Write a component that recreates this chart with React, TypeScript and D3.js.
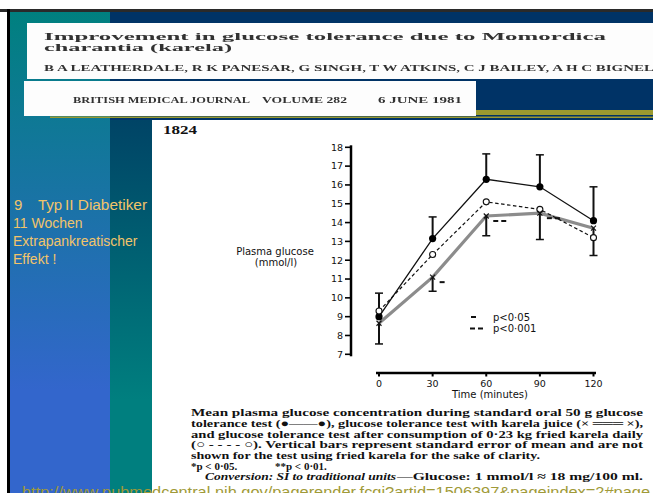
import React from "react";
import * as d3 from "d3";

// values (plasma glucose, mmol/l)
const times = [0, 30, 60, 90, 120];
const standardTest = [9.0, 13.15, 16.3, 15.9, 14.1];
const standardSE = [1.25, 1.15, 1.35, 1.7, 1.8];
const karelaJuice = [8.65, 11.1, 14.35, 14.5, 13.7];
const karelaJuiceSE = [1.1, 0.75, 1.05, 1.4, 1.45];
const friedKarela = [9.3, 12.3, 15.1, 14.7, 13.2];
const juiceSignificance = ["", "*", "**", "**", ""];
const yTicks = d3.range(7, 19);

const titleLines = ["Improvement in glucose tolerance due to Momordica", "charantia (karela)"];
const authorLine = "B A LEATHERDALE, R K PANESAR, G SINGH, T W ATKINS, C J BAILEY, A H C BIGNELL";
const journalParts = ["BRITISH MEDICAL JOURNAL", "VOLUME 282", "6 JUNE 1981"];
const sideNotes = ["11 Wochen", "Extrapankreatischer", "Effekt !"];
const captionLines = [
  "Mean plasma glucose concentration during standard oral 50 g glucose",
  "tolerance test (\u25CF\u2014\u2014\u25CF), glucose tolerance test with karela juice (\u00D7 \u2550\u2550\u2550 \u00D7),",
  "and glucose tolerance test after consumption of 0\u00B723 kg fried karela daily",
  "(\u25CB - - - - \u25CB). Vertical bars represent standard error of mean and are not",
  "shown for the test using fried karela for the sake of clarity.",
];
const url = "http://www.pubmedcentral.nih.gov/pagerender.fcgi?artid=1506397&pageindex=2#page";

const W = 653;
const H = 493;
const serif = "'Liberation Serif', 'DejaVu Serif', serif";
const sans = "'DejaVu Sans', 'Liberation Sans', sans-serif";

export default function App() {
  const x = d3.scaleLinear().domain([0, 120]).range([379, 593.5]);
  const y = d3.scaleLinear().domain([7, 18]).range([354.3, 147.3]);

  const line = d3
    .line<number>()
    .x((_, i) => x(times[i]))
    .y((d) => y(d));

  const capLens = [452, 452, 452, 452, 349];
  const capY = [416.3, 426.9, 437.5, 448.1, 458.7];

  return (
    <svg
      width={W}
      height={H}
      style={{ position: "absolute", left: 0, top: 0, display: "block" }}
    >
      <defs>
        <linearGradient id="leftCol" x1="0" y1="12" x2="0" y2="390" gradientUnits="userSpaceOnUse">
          <stop offset="0" stopColor="#00807f" />
          <stop offset="1" stopColor="#3366cc" />
        </linearGradient>
        <linearGradient id="midCol" x1="0" y1="120" x2="0" y2="400" gradientUnits="userSpaceOnUse">
          <stop offset="0" stopColor="#004466" />
          <stop offset="1" stopColor="#007f7f" />
        </linearGradient>
        <filter id="scan">
          <feGaussianBlur stdDeviation="0.6" />
        </filter>
      </defs>

      {/* slide background */}
      <rect x={0} y={0} width={W} height={H} fill="#ffffff" />
      <rect x={0} y={9} width={W} height={3} fill="#2a2a2a" />
      <rect x={7} y={9} width={3} height={H} fill="#000000" />
      <rect x={10} y={12} width={100} height={H} fill="url(#leftCol)" />
      <rect x={110} y={12} width={W - 110} height={108} fill="#003366" />
      <rect x={110} y={120} width={42} height={H - 120} fill="url(#midCol)" />

      {/* title boxes with the scanned article header */}
      <rect x={27} y={23} width={W - 27} height={56} fill="#fdfdfd" />
      <rect x={24} y={81} width={452} height={35} fill="#fdfdfd" />
      <rect x={476} y={110} width={W - 476} height={5} fill="#9a9a30" />
      <rect x={50} y={116.5} width={W - 50} height={1.5} fill="#9a9a30" />
      <g filter="url(#scan)" fill="#333" fontFamily={serif} fontWeight="bold">
        <text x={44} y={40} fontSize={10.5} textLength={562} lengthAdjust="spacingAndGlyphs">
          {titleLines[0]}
        </text>
        <text x={44} y={50.5} fontSize={10.5} textLength={188} lengthAdjust="spacingAndGlyphs">
          {titleLines[1]}
        </text>
        <text x={44} y={71} fontSize={8.5} textLength={620} lengthAdjust="spacingAndGlyphs">
          {authorLine}
        </text>
        <text x={73} y={103} fontSize={7.5} textLength={177} lengthAdjust="spacingAndGlyphs">
          {journalParts[0]}
        </text>
        <text x={262} y={103} fontSize={7.5} textLength={85} lengthAdjust="spacingAndGlyphs">
          {journalParts[1]}
        </text>
        <text x={378} y={103} fontSize={7.5} textLength={84} lengthAdjust="spacingAndGlyphs">
          {journalParts[2]}
        </text>
      </g>

      {/* side note */}
      <g fill="#f2c46a" fontFamily="'Liberation Sans', Arial, sans-serif">
        <text x={14} y={210} fontSize={15}>9</text>
        <text x={38} y={210} fontSize={15}>Typ</text>
        <text x={65} y={210} fontSize={14} textLength={82} lengthAdjust="spacingAndGlyphs">
          II Diabetiker
        </text>
        {sideNotes.map((t, i) => (
          <text key={t} x={13} y={228 + i * 18} fontSize={14}>
            {t}
          </text>
        ))}
      </g>

      {/* scanned figure page */}
      <rect x={152} y={120} width={W - 152} height={H - 120} fill="#ffffff" />
      <text x={163} y={133.5} fontSize={12} fontWeight="bold" fontFamily={serif} fill="#111" textLength={34} lengthAdjust="spacingAndGlyphs">
        1824
      </text>

      {/* y axis */}
      <g fill="#111" fontFamily={sans} fontSize={9.5}>
        <line x1={351} x2={351} y1={y(18) - 2} y2={y(7) + 2} stroke="#000" strokeWidth={2.5} />
        {yTicks.map((t) => (
          <g key={t}>
            <line x1={345} x2={351} y1={y(t)} y2={y(t)} stroke="#000" strokeWidth={1.6} />
            <text x={343} y={y(t)} dy="0.35em" textAnchor="end">
              {t}
            </text>
          </g>
        ))}
        <text x={275} y={254.5} fontSize={10} textAnchor="middle">Plasma glucose</text>
        <text x={276} y={266} fontSize={10} textAnchor="middle">(mmol/l)</text>
      </g>

      {/* x axis */}
      <g fill="#111" fontFamily={sans} fontSize={9.5}>
        <line x1={376} x2={596} y1={373} y2={373} stroke="#000" strokeWidth={2.5} />
        {times.map((t) => (
          <g key={t}>
            <line x1={x(t)} x2={x(t)} y1={373} y2={376.5} stroke="#000" strokeWidth={2} />
            <text x={x(t)} y={387} textAnchor="middle">
              {t}
            </text>
          </g>
        ))}
        <text x={490} y={397.5} fontSize={10} textAnchor="middle">Time (minutes)</text>
      </g>

      {/* series lines */}
      <path d={line(karelaJuice) || ""} fill="none" stroke="#8c8c8c" strokeWidth={3.2} />
      <path d={line(friedKarela) || ""} fill="none" stroke="#111" strokeWidth={1.2} strokeDasharray="3.5 2.5" />
      <path d={line(standardTest) || ""} fill="none" stroke="#111" strokeWidth={1.3} />

      {/* standard error bars: up for the standard test, down for karela juice */}
      <g stroke="#111" strokeWidth={2}>
        {times.map((t, i) => {
          const top = y(standardTest[i] + standardSE[i]);
          const bottom = y(karelaJuice[i] - karelaJuiceSE[i]);
          return (
            <g key={t}>
              <line x1={x(t)} x2={x(t)} y1={y(standardTest[i])} y2={top} />
              <line x1={x(t) - 4} x2={x(t) + 4} y1={top} y2={top} strokeWidth={1.5} />
              <line x1={x(t)} x2={x(t)} y1={y(karelaJuice[i])} y2={bottom} />
              <line x1={x(t) - 4} x2={x(t) + 4} y1={bottom} y2={bottom} strokeWidth={1.5} />
            </g>
          );
        })}
      </g>

      {/* markers */}
      {times.map((t, i) => (
        <g key={t}>
          <circle cx={x(t)} cy={y(standardTest[i])} r={3.6} fill="#000" />
          <circle cx={x(t)} cy={y(friedKarela[i])} r={3} fill="#fff" stroke="#111" strokeWidth={1.1} />
          <path
            d={`M${x(t) - 2.5},${y(karelaJuice[i]) - 2.5}L${x(t) + 2.5},${y(karelaJuice[i]) + 2.5}M${x(t) - 2.5},${y(karelaJuice[i]) + 2.5}L${x(t) + 2.5},${y(karelaJuice[i]) - 2.5}`}
            stroke="#111"
            strokeWidth={1.1}
          />
          {juiceSignificance[i].split("").map((_, k) => (
            <line
              key={k}
              x1={x(t) + 7 + k * 8}
              x2={x(t) + 12 + k * 8}
              y1={y(karelaJuice[i]) + 5}
              y2={y(karelaJuice[i]) + 5}
              stroke="#111"
              strokeWidth={2}
            />
          ))}
        </g>
      ))}

      {/* legend */}
      <g fill="#111" fontFamily={sans} fontSize={10}>
        <line x1={471} x2={476} y1={317} y2={317} stroke="#111" strokeWidth={2} />
        <text x={493} y={320.5}>p&lt;0·05</text>
        <line x1={470} x2={475} y1={328.5} y2={328.5} stroke="#111" strokeWidth={2} />
        <line x1={478} x2={483} y1={328.5} y2={328.5} stroke="#111" strokeWidth={2} />
        <text x={493} y={332}>p&lt;0·001</text>
      </g>

      {/* caption */}
      <g fill="#111" fontFamily={serif} fontSize={11} fontWeight="bold">
        {captionLines.map((c, i) => (
          <text key={i} x={191} y={capY[i]} textLength={capLens[i]} lengthAdjust="spacingAndGlyphs">
            {c}
          </text>
        ))}
        <text x={191} y={469.5}>*p &lt; 0·05.</text>
        <text x={275} y={469.5}>**p &lt; 0·01.</text>
        <text x={205} y={480} fontStyle="italic" textLength={191} lengthAdjust="spacingAndGlyphs">
          Conversion: SI to traditional units
        </text>
        <text x={397} y={480} textLength={246} lengthAdjust="spacingAndGlyphs">
          —Glucose: 1 mmol/l ≈ 18 mg/100 ml.
        </text>
      </g>

      {/* source link at the slide foot, cut by the bottom edge as on the slide */}
      <text
        x={22}
        y={496.5}
        fontSize={15}
        fill="#a09a38"
        fontFamily="'Liberation Sans', Arial, sans-serif"
        textLength={628}
        lengthAdjust="spacingAndGlyphs"
      >
        {url}
      </text>
    </svg>
  );
}
